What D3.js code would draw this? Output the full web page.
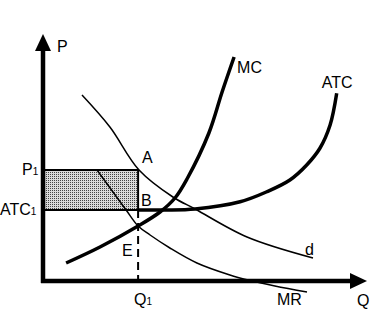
<!DOCTYPE html>
<html>
<head>
<meta charset="utf-8">
<script src="https://cdn.jsdelivr.net/npm/d3@7"></script>
<style>
  html, body { margin: 0; padding: 0; background: #fff; }
  svg text { font-family: "Liberation Sans", Arial, sans-serif; font-size: 16px; fill: #000; }
</style>
</head>
<body>
<div id="chart"></div>
<script>
// Axis extents (Q, P units)
const qMax = 108;
const pMax = 98.8;

// Key levels
const Q1 = 31.7;
const P1 = 44.4;
const ATC1 = 28.4;

// Curves as [Q, P]
const demand = [[13, 74.4], [22.3, 61.6], [32, 44.4], [43.3, 33.6], [50.7, 28.8], [68, 17.6], [90, 9.2]];
const mr = [[18, 44.4], [27.7, 28.4], [31.7, 22], [35.7, 18.4], [42.3, 13.2], [51.3, 7.2], [62.3, 2.4], [68.3, 0.4], [77.3, -2], [88, -4.4]];
const mc = [[7.7, 7.2], [19, 13.6], [31.7, 22], [39, 27.6], [44, 33.2], [48, 40.8], [55.3, 59.2], [59.7, 75.6], [63.7, 89.6]];
const atc = [[31.7, 28.4], [40.7, 28.4], [50.7, 28.8], [65.7, 31.7], [74.6, 35.7], [82.3, 40.4], [87.9, 46.4], [92.3, 53.1], [95.7, 62.4], [97.9, 75.1]];

const W = 380, H = 320;
const xScale = d3.scaleLinear().domain([0, qMax]).range([43, 367]);
const yScale = d3.scaleLinear().domain([0, 100]).range([281, 31]);

const svg = d3.select('#chart').append('svg')
  .attr('width', W)
  .attr('height', H);

// Stipple pattern for the profit box
const pat = svg.append('defs').append('pattern')
  .attr('id', 'dots')
  .attr('width', 2)
  .attr('height', 2)
  .attr('patternUnits', 'userSpaceOnUse');
pat.append('rect').attr('width', 2).attr('height', 2).attr('fill', '#dadada');
pat.append('rect').attr('width', 1).attr('height', 1).attr('fill', '#444');

// ── Profit rectangle ───────────────────────────────────────────────────────
svg.append('rect')
  .attr('x', xScale(0))
  .attr('y', yScale(P1))
  .attr('width', xScale(Q1) - xScale(0))
  .attr('height', yScale(ATC1) - yScale(P1))
  .attr('fill', 'url(#dots)')
  .attr('stroke', '#000')
  .attr('stroke-width', 2);

// Dashed drop line from B to Q1
svg.append('line')
  .attr('x1', xScale(Q1)).attr('x2', xScale(Q1))
  .attr('y1', yScale(ATC1)).attr('y2', yScale(0))
  .attr('stroke', '#000')
  .attr('stroke-width', 2)
  .attr('stroke-dasharray', '8,5');

// ── Curves ────────────────────────────────────────────────────────────────
const line = d3.line()
  .x(d => xScale(d[0]))
  .y(d => yScale(d[1]))
  .curve(d3.curveCatmullRom.alpha(0.5));

[[demand, 1.5], [mr, 1.5], [mc, 3.5], [atc, 3.5]].forEach(([pts, w]) => {
  svg.append('path')
    .datum(pts)
    .attr('d', line)
    .attr('fill', 'none')
    .attr('stroke', '#000')
    .attr('stroke-width', w);
});

// ── Axes with arrowheads ────────────────────────────────────────────────────
svg.append('line')
  .attr('x1', xScale(0)).attr('x2', xScale(0))
  .attr('y1', yScale(0) + 2).attr('y2', yScale(pMax) + 14)
  .attr('stroke', '#000').attr('stroke-width', 4.5);
svg.append('line')
  .attr('x1', xScale(0) - 2).attr('x2', xScale(qMax) - 14)
  .attr('y1', yScale(0)).attr('y2', yScale(0))
  .attr('stroke', '#000').attr('stroke-width', 4.5);

const yt = [xScale(0), yScale(pMax)];
svg.append('path')
  .attr('d', `M${yt[0]},${yt[1]} L${yt[0] - 8},${yt[1] + 17} L${yt[0] + 8},${yt[1] + 17} Z`)
  .attr('fill', '#000');
const xt = [xScale(qMax), yScale(0)];
svg.append('path')
  .attr('d', `M${xt[0]},${xt[1]} L${xt[0] - 17},${xt[1] - 8} L${xt[0] - 17},${xt[1] + 8} Z`)
  .attr('fill', '#000');

// ── Labels ──────────────────────────────────────────────────────────────────
function label(x, y, txt, sub) {
  const t = svg.append('text').attr('x', x).attr('y', y).text(txt);
  if (sub) t.append('tspan').attr('font-size', 10).text(sub);
}

const last = a => a[a.length - 1];

label(yt[0] + 14, yt[1] + 18, 'P');
label(xt[0] - 10, xt[1] + 25, 'Q');
label(xScale(last(mc)[0]) + 3, yScale(last(mc)[1]) + 16, 'MC');
label(xScale(last(atc)[0]) - 15, yScale(last(atc)[1]) - 5, 'ATC');
label(xScale(last(demand)[0]) - 8, yScale(last(demand)[1]) - 3, 'd');
label(xScale(last(mr)[0]) - 30, yScale(last(mr)[1]) + 13, 'MR');
label(xScale(Q1) + 4, yScale(P1) - 7, 'A');
label(xScale(Q1) + 3, yScale(ATC1) - 4, 'B');
label(xScale(Q1) - 16, yScale(22) + 30, 'E');
label(22, yScale(P1) + 5, 'P', '1');
label(0, yScale(ATC1) + 5, 'ATC', '1');
label(xScale(Q1) - 4, yScale(0) + 24, 'Q', '1');
</script>
</body>
</html>
